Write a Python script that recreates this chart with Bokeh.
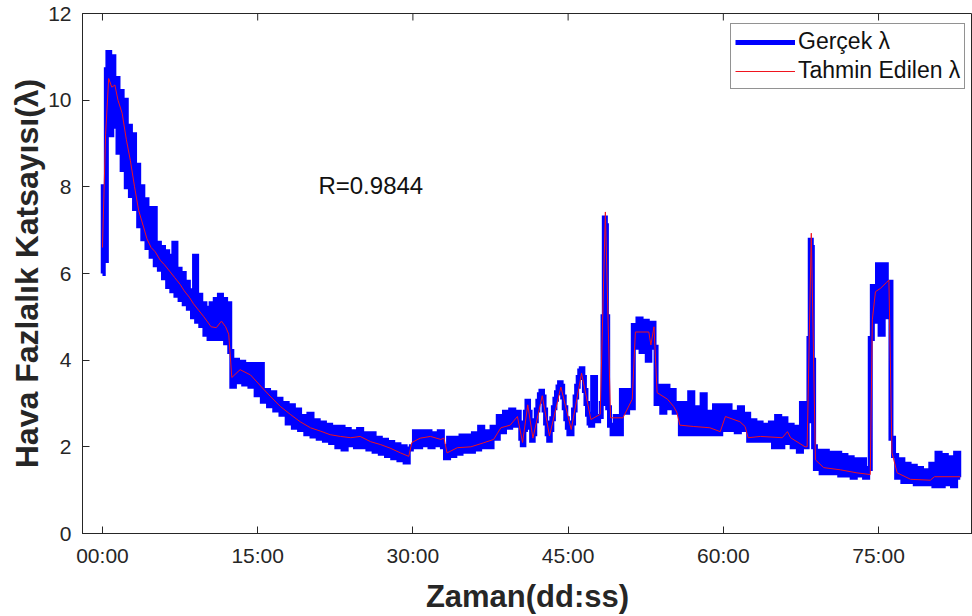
import math
from bokeh.plotting import figure
from bokeh.models import Range1d, FixedTicker, Legend, LegendItem, Label
from bokeh.embed import file_html
from bokeh.resources import INLINE

# ---- data (minutes, lambda) ----
gercek_t = [0.0, 0.15, 0.3, 0.45, 0.6, 0.8, 1.0, 1.2, 1.4, 1.6,
            1.8, 2.0, 2.2, 2.4, 2.6, 2.8, 3.0, 3.2, 3.4, 3.6,
            3.8, 4.0, 4.2, 4.4, 4.6, 4.8, 5.0, 5.2, 5.4, 5.6,
            5.8, 6.0, 6.2, 6.4, 6.6, 6.8, 7.0, 7.2, 7.4, 7.6,
            7.8, 8.0, 8.2, 8.4, 8.6, 8.8, 9.0, 9.2, 9.4, 9.6,
            9.8, 10.0, 10.2, 10.4, 10.6, 10.8, 11.0, 11.2, 11.4, 11.6,
            11.8, 12.0, 12.2, 12.4, 12.6, 12.9, 13.2, 13.5, 13.8, 14.1,
            14.4, 14.7, 15.0, 15.3, 15.6, 15.9, 16.2, 16.5, 16.8, 17.1,
            17.4, 17.7, 18.0, 18.3, 18.6, 18.9, 19.2, 19.5, 19.8, 20.1,
            20.4, 20.7, 21.0, 21.3, 21.6, 21.9, 22.2, 22.5, 22.8, 23.1,
            23.4, 23.7, 24.0, 24.3, 24.6, 24.9, 25.2, 25.5, 25.8, 26.1,
            26.4, 26.7, 27.0, 27.3, 27.6, 27.9, 28.2, 28.5, 28.8, 29.1,
            29.4, 29.7, 30.0, 30.3, 30.6, 30.9, 31.2, 31.5, 31.8, 32.1,
            32.4, 32.7, 33.0, 33.3, 33.6, 33.9, 34.2, 34.5, 34.8, 35.1,
            35.4, 35.7, 36.0, 36.3, 36.6, 36.9, 37.2, 37.5, 37.8, 38.1,
            38.4, 38.7, 39.0, 39.3, 39.6, 39.9,
            40.2, 40.35, 40.5, 40.65, 40.8, 40.95, 41.1, 41.25,
            41.4, 41.55, 41.7, 41.85, 42.0, 42.15, 42.3, 42.45,
            42.6, 42.75, 42.9, 43.05, 43.2, 43.35, 43.5, 43.65,
            43.8, 43.95, 44.1, 44.25, 44.4, 44.55, 44.7, 44.85,
            45.0, 45.15, 45.3, 45.45, 45.6, 45.75, 45.9, 46.05,
            46.2, 46.35, 46.5, 46.65, 46.8, 46.95, 47.1, 47.25,
            47.5, 47.8, 48.1, 48.3, 48.45, 48.55, 48.65, 48.75,
            48.9, 49.1, 49.4, 49.7,
            50.0, 50.3, 50.6, 50.9, 51.2, 51.4, 51.6, 51.9, 52.2, 52.5,
            52.8, 53.0, 53.2, 53.4, 53.6, 53.9, 54.2, 54.5, 54.8, 55.1,
            55.4, 55.7, 56.0, 56.3, 56.6, 56.9, 57.2, 57.5, 57.8, 58.1,
            58.4, 58.7, 59.0, 59.3, 59.6, 59.9, 60.2, 60.5, 60.8, 61.1,
            61.4, 61.7, 62.0, 62.3, 62.6, 62.9, 63.2, 63.5, 63.8, 64.1,
            64.4, 64.7, 65.0, 65.3, 65.6, 65.9, 66.2, 66.5, 66.8, 67.1,
            67.4, 67.7, 68.0, 68.2, 68.35, 68.45, 68.55, 68.65, 68.8, 69.0,
            69.3, 69.6, 69.9,
            70.2, 70.5, 70.8, 71.1, 71.4, 71.7, 72.0, 72.3, 72.6, 72.9,
            73.2, 73.5, 73.8, 74.1, 74.3, 74.5, 74.8, 75.0, 75.3, 75.6,
            75.9, 76.1, 76.3, 76.6, 76.9, 77.2, 77.5, 77.8, 78.1, 78.4,
            78.7, 79.0, 79.3, 79.6, 79.9, 80.2, 80.5, 80.8, 81.1, 81.4,
            81.7, 82.0, 82.3, 82.6, 82.9]
gercek_v = [6.0, 8.0, 6.3, 10.7, 11.1, 9.2, 11.0, 9.4, 10.5, 8.8,
            10.2, 8.4, 10.0, 8.0, 9.4, 7.8, 9.2, 7.5, 8.5, 7.1,
            8.0, 6.8, 7.7, 6.6, 7.5, 6.4, 7.5, 6.2, 6.7, 6.1,
            6.6, 5.9, 6.5, 5.7, 6.4, 5.6, 6.7, 5.5, 6.1, 5.4,
            6.0, 5.3, 5.8, 5.2, 5.6, 5.0, 6.4, 4.9, 5.5, 4.8,
            5.3, 4.6, 5.2, 4.5, 5.3, 4.5, 5.4, 4.5, 5.5, 4.5,
            5.4, 4.4, 5.3, 4.2, 3.4, 4.0, 3.5, 3.95, 3.45, 3.9,
            3.4, 3.9, 3.2, 3.9, 3.05, 3.3, 2.95, 3.25, 2.85, 3.1,
            2.75, 3.0, 2.55, 2.95, 2.45, 2.85, 2.4, 2.7, 2.3, 2.75,
            2.25, 2.6, 2.2, 2.55, 2.15, 2.5, 2.1, 2.45, 2.0, 2.45,
            1.95, 2.4, 2.05, 2.35, 2.0, 2.4, 2.0, 2.3, 1.95, 2.3,
            1.9, 2.2, 1.85, 2.15, 1.8, 2.1, 1.75, 2.05, 1.7, 2.0,
            1.65, 1.95, 2.0, 2.35, 2.0, 2.35, 2.05, 2.35, 2.0, 2.3,
            2.05, 2.35, 2.0, 1.75, 2.2, 1.8, 2.2, 1.85, 2.25, 1.9,
            2.25, 1.9, 2.3, 1.95, 2.45, 2.0, 2.35, 2.0, 2.45, 2.2,
            2.7, 2.35, 2.8, 2.45, 2.85, 2.5,
            2.8, 2.55, 2.2, 2.05, 2.4, 2.8, 3.05, 2.8,
            2.45, 2.15, 2.3, 2.6, 2.85, 3.05, 3.2, 3.28,
            3.15, 2.85, 2.55, 2.3, 2.15, 2.4, 2.65, 2.9,
            3.1, 3.25, 3.38, 3.48, 3.4, 3.15, 2.9, 2.65,
            2.45, 2.3, 2.3, 2.55, 2.85, 3.15, 3.4, 3.6,
            3.75, 3.8, 3.6, 3.3, 3.0, 2.75, 2.55, 2.5,
            3.6, 2.6, 2.7, 3.0, 5.0, 7.28, 7.1, 5.0,
            2.9, 2.5, 2.3, 2.7,
            2.3, 3.3, 2.8, 3.3, 2.9, 4.8, 4.3, 4.95, 4.2, 4.9,
            4.0, 4.3, 4.85, 4.3, 3.0, 3.4, 2.8, 3.4, 2.9, 3.3,
            2.8, 3.0, 2.3, 3.0, 2.3, 3.25, 2.3, 2.9, 2.3, 3.2,
            2.3, 2.8, 2.3, 2.95, 2.3, 2.95, 2.4, 2.95, 2.4, 2.8,
            2.35, 2.9, 2.4, 2.75, 2.15, 2.6, 2.15, 2.55, 2.15, 2.5,
            2.15, 2.55, 2.0, 2.7, 2.0, 2.65, 2.1, 2.5, 2.0, 2.45,
            1.9, 3.0, 2.0, 2.6, 4.5, 6.77, 6.6, 4.0, 2.0, 1.5,
            1.9, 1.4, 1.9,
            1.4, 1.85, 1.4, 1.85, 1.35, 1.8, 1.35, 1.75, 1.3, 1.7,
            1.35, 1.7, 1.3, 1.5, 4.5, 5.7, 4.9, 6.2, 4.6, 6.2,
            5.0, 5.8, 2.2, 1.8, 1.3, 1.7, 1.2, 1.6, 1.2, 1.55,
            1.15, 1.5, 1.15, 1.45, 1.15, 1.6, 1.1, 1.85, 1.1, 1.8,
            1.15, 1.75, 1.1, 1.85, 1.3]

tahmin_t = [0.0, 0.3, 0.6, 0.9, 1.2, 1.5, 1.9, 2.3, 2.7, 3.1,
            3.5, 4.0, 4.3, 4.7, 5.1, 5.6, 6.0, 6.5, 7.0, 7.5,
            7.9, 8.4, 8.8, 9.3, 9.8, 10.5, 11.0, 11.5, 11.9, 12.2,
            12.5, 13.3, 14.3, 15.3, 16.2, 17.2, 18.2, 19.1, 20.1, 21.1,
            22.0, 23.0, 24.0, 24.9, 25.9, 26.9, 27.8, 28.8, 29.6, 29.9,
            30.7, 31.7, 32.7, 33.0, 33.3, 34.3, 35.6, 36.8, 37.8, 38.5,
            39.4, 40.1, 40.6, 41.1, 41.6, 42.5, 43.2, 44.3, 45.3, 46.3,
            47.2, 48.1, 48.6, 49.1, 50.3, 51.2, 51.5, 52.8, 53.0, 53.3,
            53.6, 54.6, 55.2, 55.5, 55.8, 57.1, 58.7, 59.7, 60.2, 61.6,
            62.1, 62.4, 63.6, 65.7, 66.2, 66.5, 67.9, 68.1, 68.5, 68.9,
            69.7, 71.3, 72.9, 74.2, 74.4, 74.7, 75.2, 75.8, 76.0, 76.3,
            76.8, 78.1, 80.0, 80.4, 82.9]
tahmin_v = [6.6, 9.2, 10.5, 10.3, 10.35, 10.0, 9.7, 9.1, 8.6, 8.0,
            7.45, 7.05, 6.8, 6.6, 6.5, 6.3, 6.2, 6.05, 5.9, 5.75,
            5.6, 5.45, 5.3, 5.15, 5.0, 4.77, 4.75, 4.9, 4.77, 4.6,
            3.6, 3.78, 3.66, 3.4, 3.17, 2.93, 2.74, 2.58, 2.44, 2.36,
            2.28, 2.24, 2.21, 2.24, 2.12, 2.05, 1.97, 1.86, 1.78, 2.1,
            2.2, 2.24, 2.17, 2.2, 1.86, 1.98, 2.0, 2.09, 2.17, 2.44,
            2.5, 2.7, 2.1, 2.97, 2.2, 3.18, 2.25, 3.38, 2.4, 3.7,
            2.63, 2.75, 7.42, 2.67, 2.67, 3.1, 4.65, 4.65, 4.35, 4.77,
            3.25, 3.1, 2.93, 2.8, 2.5, 2.47, 2.44, 2.35, 2.7, 2.58,
            2.47, 2.21, 2.24, 2.21, 2.35, 2.21, 2.0, 2.0, 6.93, 1.7,
            1.52, 1.47, 1.4, 1.36, 4.93, 5.58, 5.66, 5.8, 5.85, 1.86,
            1.4, 1.25, 1.23, 1.31, 1.31]

x_ticks = [0, 15, 30, 45, 60, 75]
x_tick_labels = ["00:00", "15:00", "30:00", "45:00", "60:00", "75:00"]
y_ticks = [0, 2, 4, 6, 8, 10, 12]
series_names = ["Gerçek λ", "Tahmin Edilen λ"]
x_title = "Zaman(dd:ss)"
y_title = "Hava Fazlalık Katsayısı(λ)"
r_text = "R=0.9844"

FONT = "Liberation Sans"
AX = "#262626"
Y_MAX = 12

p = figure(width=972, height=616, x_range=Range1d(-1.93, 84.08), y_range=Range1d(0, Y_MAX),
           output_backend="svg", toolbar_location=None,
           min_border_left=82, min_border_right=0, min_border_top=13, min_border_bottom=82)
p.xgrid.visible = False
p.ygrid.visible = False
p.outline_line_color = AX
p.outline_line_width = 1
p.background_fill_color = "white"
p.border_fill_color = "white"

r_blue = p.step(gercek_t, gercek_v, mode="center", line_color="#0000FF", line_width=5,
                line_join="miter")
r_red = p.line(tahmin_t, tahmin_v, line_color="#F0141E", line_width=1)

xa = p.xaxis[0]
xa.ticker = FixedTicker(ticks=x_ticks)
xa.major_label_overrides = dict(zip(x_ticks, x_tick_labels))
xa.axis_label = x_title
ya = p.yaxis[0]
ya.ticker = FixedTicker(ticks=y_ticks)
ya.axis_label = y_title

for ax in (xa, ya):
    ax.axis_line_color = AX
    ax.major_tick_line_color = AX
    ax.major_tick_in = 7
    ax.major_tick_out = 0
    ax.minor_tick_line_color = None
    ax.major_label_text_font = FONT
    ax.major_label_text_font_size = "21px"
    ax.major_label_text_color = AX
    ax.axis_label_text_font = FONT
    ax.axis_label_text_font_style = "bold"
    ax.axis_label_text_color = AX
xa.axis_label_text_font_size = "31px"
ya.axis_label_text_font_size = "32px"
xa.major_label_standoff = 10
xa.axis_label_standoff = 9
ya.major_label_standoff = 11
ya.axis_label_standoff = 0

# inward tick marks on the top edge of the box
p.ray(x=x_ticks, y=[Y_MAX] * len(x_ticks), length=7, length_units="screen",
      angle=-math.pi / 2, line_color=AX, line_width=1)

p.add_layout(Label(x=20.87, y=8.04, text=r_text, text_font=FONT, text_font_size="24px",
                   text_baseline="middle", text_align="left", text_color="#111111"))

legend = Legend(items=[LegendItem(label=series_names[0], renderers=[r_blue]),
                       LegendItem(label=series_names[1], renderers=[r_red])],
                location=(648, 444), orientation="vertical",
                label_text_font=FONT, label_text_font_size="23px", label_text_color="#111111",
                glyph_width=60, glyph_height=24, label_standoff=3, label_height=24,
                padding=4, spacing=2, margin=0,
                border_line_color=AX, border_line_width=1, background_fill_color="white",
                background_fill_alpha=1.0)
p.add_layout(legend, "center")

open("out.html", "w").write(file_html(p, INLINE))
